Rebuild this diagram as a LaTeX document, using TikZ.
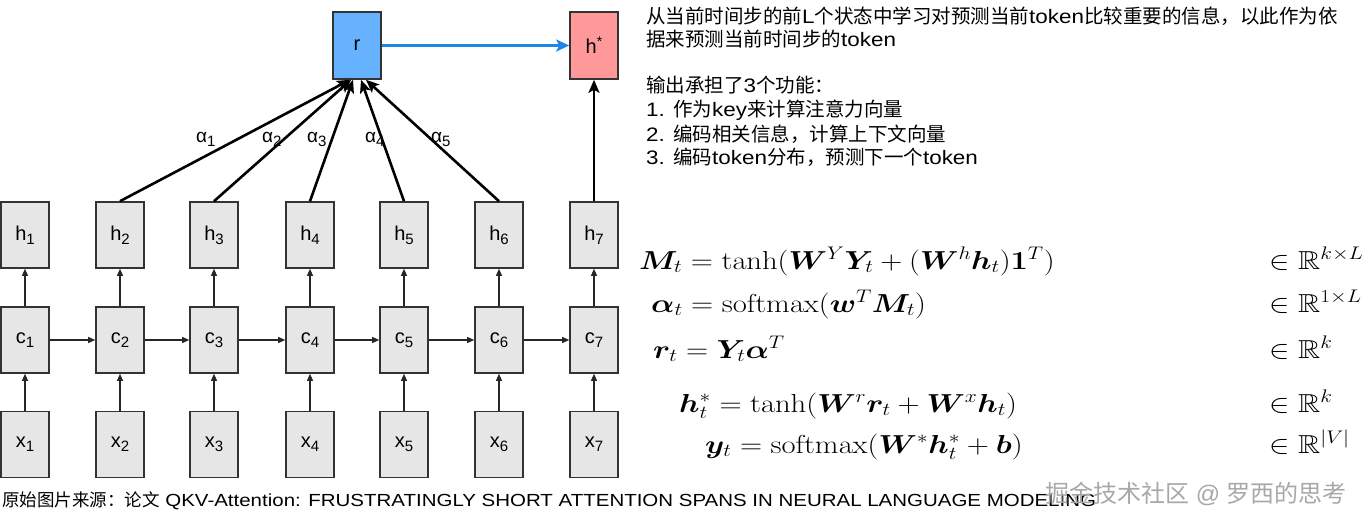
\RequirePackage{fix-cm}
\documentclass[tikz,border=0pt]{standalone}
\usepackage{amsmath,amssymb,bm}
\usepackage[no-math]{fontspec}
\setmainfont{Liberation Sans}
\newfontfamily\cjk{Noto Sans CJK SC}
\newfontfamily\lat[FakeStretch=1.15]{Liberation Sans}
\newfontfamily\capl[FakeStretch=1.17]{Liberation Sans}
\usetikzlibrary{arrows.meta,calc}
\definecolor{boxfill}{HTML}{E6E6E6}
\definecolor{boxline}{HTML}{333333}
\definecolor{rfill}{HTML}{66B2FF}
\definecolor{hsfill}{HTML}{FF9999}
\definecolor{bluearrow}{HTML}{1E86E6}
\definecolor{wmark}{HTML}{A8A8A8}
\newcommand\idx[1]{\raisebox{-4pt}{\fontsize{15}{15}\selectfont #1}}
\newcommand\aidx[1]{\raisebox{-4pt}{\fontsize{15}{15}\selectfont #1}}
\newcommand\wide[1]{\scalebox{1.18}[1]{#1}}
\begin{document}
\begin{tikzpicture}[x=1pt,y=-1pt,
  cell/.style={draw=boxline, line width=1.6pt, fill=boxfill, minimum width=48pt,
    minimum height=66pt, inner sep=0pt, font=\fontsize{20}{20}\selectfont},
  thinarrow/.style={draw=black!85, line width=1.1pt, -{Triangle[length=7pt,width=6pt]}},
  thickarrow/.style={draw=black, line width=2.6pt, -{Stealth[length=13pt,width=11pt,inset=3pt]}},
  bluelink/.style={draw=bluearrow, line width=2.8pt, -{Stealth[length=13pt,width=12pt,inset=3pt]}},
  alab/.style={anchor=base west, inner sep=0pt, font=\fontsize{19}{19}\selectfont},
  desc/.style={anchor=base west, inner sep=0pt, font=\fontsize{19.5}{19.5}\selectfont\lat},
  eq/.style={anchor=base west, inner sep=0pt, font=\fontsize{26}{30}\selectfont},
]
\useasboundingbox (0,0) rectangle (1368,523);
% columns
\foreach \i/\xx in {1/25,2/120,3/214,4/310,5/404,6/499,7/594}{
  \node[cell] (h\i) at (\xx,235) {h\idx{\i}};
  \node[cell] (c\i) at (\xx,340) {c\idx{\i}};
  \node[cell] (x\i) at (\xx,444.5) {x\idx{\i}};
  \draw[thinarrow] (x\i) -- (c\i);
  \draw[thinarrow] (c\i) -- (h\i);
}
\foreach \i/\j in {1/2,2/3,3/4,4/5,5/6,6/7}{
  \draw[thinarrow] (c\i) -- (c\j);
}
\node[cell, fill=rfill, minimum height=67pt] (r) at (357,45.5) {r};
\node[cell, fill=hsfill, minimum height=67pt] (hs) at (594,45.5) {h\raisebox{7pt}{\fontsize{14}{14}\selectfont *}};
\draw[bluelink] (r) -- (hs);
\draw[thickarrow] (h7) -- (hs);
\draw[thickarrow] (h2.north) -- ([xshift=-7pt]r.south);
\draw[thickarrow] (h3.north) -- ([xshift=-6pt]r.south);
\draw[thickarrow] (h4.north) -- ([xshift=-4pt]r.south);
\draw[thickarrow] (h5.north) -- ([xshift=4pt]r.south);
\draw[thickarrow] (h6.north) -- ([xshift=9pt]r.south);
\node[alab] (a1) at (196,142) {α\aidx{1}};
\node[alab] (a2) at (262,142) {α\aidx{2}};
\node[alab] (a3) at (307,142) {α\aidx{3}};
\node[alab] (a4) at (365,142) {α\aidx{4}};
\node[alab] (a5) at (431,142) {α\aidx{5}};
% description
\node[desc] (d1) at (646,23) {{\cjk 从当前时间步的前}L{\cjk 个状态中学习对预测当前}token{\cjk 比较重要的信息，以此作为依}};
\node[desc] (d2) at (646,46) {{\cjk 据来预测当前时间步的}token};
\node[desc] (d3) at (646,92) {{\cjk 输出承担了}3{\cjk 个功能：}};
\node[desc] (d4) at (646,116) {1. {\cjk 作为}key{\cjk 来计算注意力向量}};
\node[desc] (d5) at (646,141) {2. {\cjk 编码相关信息，计算上下文向量}};
\node[desc] (d6) at (646,164) {3. {\cjk 编码}token{\cjk 分布，预测下一个}token};
% equations
\node[eq] (e1) at (639,269) {\wide{$\bm{M}_t = \tanh(\bm{W}^Y\bm{Y}_t + (\bm{W}^h\bm{h}_t)\mathbf{1}^T)$}};
\node[eq] (e2) at (651,312) {\wide{$\bm{\alpha}_t = \mathrm{softmax}(\bm{w}^T\bm{M}_t)$}};
\node[eq] (e3) at (653,358) {\wide{$\bm{r}_t = \bm{Y}_t\bm{\alpha}^T$}};
\node[eq] (e4) at (679,412) {\wide{$\bm{h}^*_t = \tanh(\bm{W}^r\bm{r}_t + \bm{W}^x\bm{h}_t)$}};
\node[eq] (e5) at (705,453) {\wide{$\bm{y}_t = \mathrm{softmax}(\bm{W}^*\bm{h}^*_t + \bm{b})$}};
\node[eq] (s1) at (1269,269) {\wide{$\in \mathbb{R}^{k\times L}$}};
\node[eq] (s2) at (1269,312) {\wide{$\in \mathbb{R}^{1\times L}$}};
\node[eq] (s3) at (1269,358) {\wide{$\in \mathbb{R}^{k}$}};
\node[eq] (s4) at (1269,412) {\wide{$\in \mathbb{R}^{k}$}};
\node[eq] (s5) at (1269,453) {\wide{$\in \mathbb{R}^{|V|}$}};
% caption and watermark
\node[anchor=base west, inner sep=0pt, font=\fontsize{17.5}{17.5}\selectfont\capl] (cap) at (2,506)
  {{\cjk 原始图片来源：论文} QKV-Attention: FRUSTRATINGLY SHORT ATTENTION SPANS IN NEURAL LANGUAGE MODELING};
\node[anchor=base west, inner sep=0pt, text=wmark, font=\fontsize{24}{24}\selectfont] (wm) at (1045,502)
  {{\cjk 掘金技术社区} @ {\cjk 罗西的思考}};
\end{tikzpicture}
\end{document}
